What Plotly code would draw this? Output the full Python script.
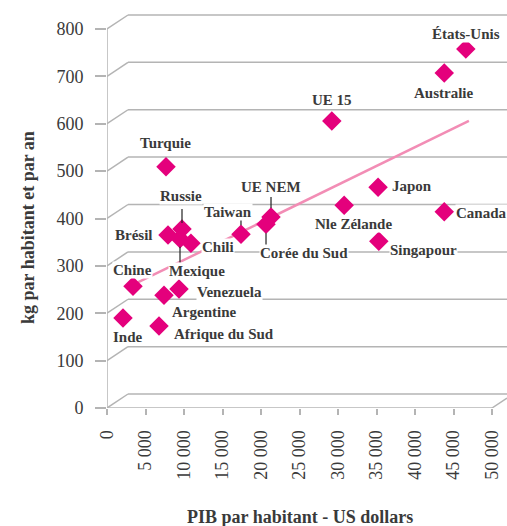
import plotly.graph_objects as go

# ---- data ----
countries = ["États-Unis", "Australie", "UE 15", "Turquie", "Japon", "Nle Zélande",
             "Canada", "UE NEM", "Corée du Sud", "Taiwan", "Singapour", "Russie",
             "Brésil", "Mexique", "Chili", "Chine", "Venezuela", "Argentine",
             "Inde", "Afrique du Sud"]
gdp = [46600, 43800, 29200, 7660, 35200, 30800, 43800, 21300, 20650, 17400,
       35300, 9740, 7920, 9480, 10900, 3380, 9350, 7400, 2080, 6750]
kg = [758, 707, 606, 509, 466, 428, 414, 403, 388, 367,
      352, 378, 365, 357, 348, 257, 251, 238, 190, 173]
trend_x = [4000, 47000]
trend_y = [265, 606]
y_ticks = [0, 100, 200, 300, 400, 500, 600, 700, 800]
x_ticks = [0, 5000, 10000, 15000, 20000, 25000, 30000, 35000, 40000, 45000, 50000]
x_ticklabels = ["0", "5 000", "10 000", "15 000", "20 000", "25 000", "30 000",
                "35 000", "40 000", "45 000", "50 000"]

# ---- label placement (pixel offsets from marker: dx, dy(down), anchor) ----
label_pos = {
    "États-Unis": (0, -15, "center"), "Australie": (0, 20, "center"),
    "UE 15": (0, -21, "center"), "Turquie": (0, -24, "center"),
    "Japon": (13, -1, "left"), "Nle Zélande": (9, 19, "center"),
    "Canada": (11, 1, "left"), "UE NEM": (0, -30, "center"),
    "Corée du Sud": (38, 29, "center"), "Taiwan": (-13, -22, "center"),
    "Singapour": (45, 9, "center"), "Russie": (-1, -33, "center"),
    "Brésil": (-14, 0, "right"), "Mexique": (17, 32, "center"),
    "Chili": (10, 4, "left"), "Chine": (-1, -16, "center"),
    "Venezuela": (17, 3, "left"), "Argentine": (40, 17, "center"),
    "Inde": (5, 19, "center"), "Afrique du Sud": (14, 8, "left"),
}
leaders = {  # vertical leader lines: (dx, dy_start, dy_end) in px
    "UE NEM": (0, -20, -9), "Corée du Sud": (0, 9, 22), "Taiwan": (0, -16, -9),
    "Russie": (0, -20, -6), "Mexique": (0, 8, 24),
}

# ---- geometry ----
W, H = 507, 526
ML, MR, MT, MB = 107, 0, 10, 118
PXX = 385 / 50000          # px per x unit
PXY = 379 / 800            # px per y unit
XMAX = (W - ML - MR) / PXX
YMAX = (H - MT - MB) / PXY
BACK_DX = 21 / PXX
BACK_DY = 14 / PXY

grid_col = "#b4b4b4"
txt_col = "#3a3a3a"
mag = "#e4007c"
serif = "Liberation Serif, Times New Roman, serif"

fig = go.Figure()
fig.add_trace(go.Scatter(x=trend_x, y=trend_y, mode="lines",
                         line=dict(color="#f28db5", width=2.5),
                         hoverinfo="skip", showlegend=False))
fig.add_trace(go.Scatter(x=gdp, y=kg, mode="markers", text=countries,
                         marker=dict(symbol="diamond", size=15, color=mag),
                         showlegend=False))

shapes = []
for v in y_ticks:
    shapes.append(dict(type="line", xref="x", yref="y", x0=0, y0=v,
                       x1=BACK_DX, y1=v + BACK_DY, layer="below",
                       line=dict(color=grid_col, width=1.5)))
    shapes.append(dict(type="line", xref="x", yref="y", x0=BACK_DX, y0=v + BACK_DY,
                       x1=XMAX, y1=v + BACK_DY, layer="below",
                       line=dict(color=grid_col, width=1.5)))
# front axes
shapes.append(dict(type="line", xref="x", yref="y", x0=0, y0=0, x1=0, y1=y_ticks[-1],
                   layer="below", line=dict(color=grid_col, width=1.5)))
shapes.append(dict(type="line", xref="x", yref="y", x0=0, y0=0, x1=x_ticks[-1], y1=0,
                   layer="below", line=dict(color=grid_col, width=1.5)))
frac = (XMAX - x_ticks[-1]) / BACK_DX
shapes.append(dict(type="line", xref="x", yref="y", x0=x_ticks[-1], y0=0,
                   x1=XMAX, y1=BACK_DY * frac, layer="below",
                   line=dict(color=grid_col, width=1.5)))
# leader lines
for name, (dx, d0, d1) in leaders.items():
    i = countries.index(name)
    xx = gdp[i] + dx / PXX
    shapes.append(dict(type="line", xref="x", yref="y", x0=xx, x1=xx,
                       y0=kg[i] - d0 / PXY, y1=kg[i] - d1 / PXY,
                       layer="above", line=dict(color="#222222", width=1.2)))

annotations = []
for name, x, y in zip(countries, gdp, kg):
    dx, dy, anc = label_pos[name]
    annotations.append(dict(x=x, y=y, xref="x", yref="y", text=name, showarrow=False,
                            xanchor=anc, yanchor="middle", xshift=dx, yshift=-dy,
                            bgcolor="white", borderpad=0,
                            font=dict(family=serif, size=15, color=txt_col, weight="bold")))
annotations.append(dict(x=28, y=H - 228, xref="paper", yref="paper",
                        text="kg par habitant et par an", showarrow=False, textangle=-90,
                        font=dict(family=serif, size=18, color=txt_col, weight="bold")))
annotations.append(dict(x=300, y=H - 517, xref="paper", yref="paper",
                        text="PIB par habitant - US dollars", showarrow=False,
                        font=dict(family=serif, size=18, color=txt_col, weight="bold")))
# convert paper pixel positions for the two titles
for a in annotations[-2:]:
    a["x"] = (a["x"] - ML) / (W - ML - MR)
    a["y"] = (a["y"] - MB) / (H - MT - MB)
    a["xanchor"] = "center"
    a["yanchor"] = "middle"

fig.update_layout(
    width=W, height=H, margin=dict(l=ML, r=MR, t=MT, b=MB),
    plot_bgcolor="white", paper_bgcolor="white",
    shapes=shapes, annotations=annotations,
    xaxis=dict(range=[0, XMAX], tickvals=x_ticks, ticktext=x_ticklabels,
               tickangle=-90, ticks="outside", ticklen=6, tickwidth=1.5,
               tickcolor=grid_col, showgrid=False, zeroline=False, showline=False,
               ticklabelstandoff=8,
               tickfont=dict(family=serif, size=18, color=txt_col)),
    yaxis=dict(range=[0, YMAX], tickvals=y_ticks, ticks="outside", ticklen=11,
               tickwidth=1.5, tickcolor=grid_col, showgrid=False, zeroline=False,
               showline=False, ticklabelstandoff=8,
               tickfont=dict(family=serif, size=18, color=txt_col)),
)
fig.write_html("out.html", config={"displayModeBar": False},
               post_script="document.body.style.margin='0';document.body.style.overflow='hidden';")
